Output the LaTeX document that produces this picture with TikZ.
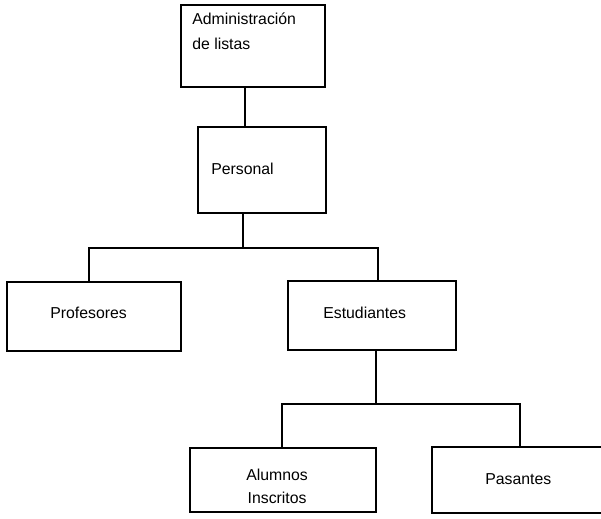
\documentclass[tikz,border=0pt]{standalone}
\usepackage{fontspec}
\setmainfont{Liberation Sans}
\begin{document}
\begin{tikzpicture}[x=0.02cm,y=-0.02cm]
\tikzstyle{caja}=[draw,line width=1pt,shape=rectangle,inner sep=0pt]
\tikzstyle{txt}=[anchor=west,inner sep=0pt,font=\fontsize{9}{14}\selectfont,align=left]
\useasboundingbox (0,0) rectangle (601,518);

% cajas
\node[caja,minimum width=2.88cm,minimum height=1.64cm] at (253,46) (admin) {};
\node[caja,minimum width=2.56cm,minimum height=1.72cm] at (262,170) (personal) {};
\node[caja,minimum width=3.48cm,minimum height=1.38cm] at (94,316.5) (prof) {};
\node[caja,minimum width=3.36cm,minimum height=1.38cm] at (372,315.5) (estud) {};
\node[caja,minimum width=3.72cm,minimum height=1.28cm] at (283,480) (alumnos) {};
% caja abierta a la derecha
\node[caja,draw=none,minimum width=4.4cm,minimum height=1.28cm] at (543,480) (pasantes) {};
\draw[line width=1pt] (pasantes.north east) -- (pasantes.north west) -- (pasantes.south west) -- (pasantes.south east);

% textos
\node[txt] at (192,31) (tadmin) {Administración\\de listas};
\node[txt] at (211,169) (tpersonal) {Personal};
\node[txt] at (50,313) (tprof) {Profesores};
\node[txt] at (323,313) (testud) {Estudiantes};
\node[txt,align=center,font=\fontsize{9}{13}\selectfont] at (246,486) (talumnos) {Alumnos\\Inscritos};
\node[txt] at (485,479) (tpasantes) {Pasantes};

% uniones
\coordinate (b0) at (245,100);
\coordinate (b1) at (243,248);
\coordinate (b1l) at (89,248);
\coordinate (b1r) at (378,248);
\coordinate (b2) at (376,404);
\coordinate (b2l) at (282,404);
\coordinate (b2r) at (520,404);

\draw[line width=1pt] (admin.south -| b0) -- (personal.north -| b0);
\draw[line width=1pt] (personal.south -| b1) -- (b1);
\draw[line width=1pt] (prof.north -| b1l) -- (b1l) -- (b1r) -- (estud.north -| b1r);
\draw[line width=1pt] (estud.south -| b2) -- (b2);
\draw[line width=1pt] (alumnos.north -| b2l) -- (b2l) -- (b2r) -- (pasantes.north -| b2r);
\end{tikzpicture}
\end{document}
